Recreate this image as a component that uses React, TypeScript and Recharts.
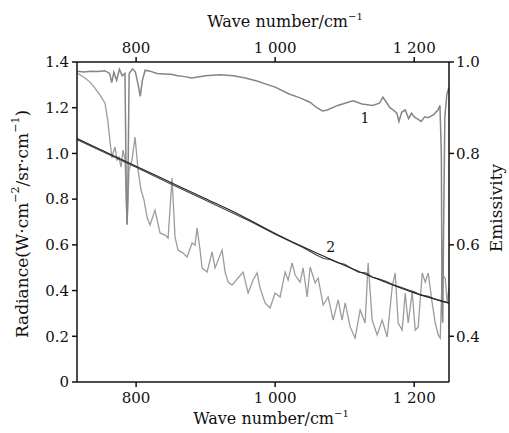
import React from 'react';
import { LineChart, Line, XAxis, YAxis, ReferenceDot } from 'recharts';

// axis ticks
const waveTicks = [800, 1000, 1200];
const waveTickLabels = ['800', '1 000', '1 200'];
const radianceTicks = [0, 0.2, 0.4, 0.6, 0.8, 1.0, 1.2, 1.4];
const emissivityTicks = [0.4, 0.6, 0.8, 1.0];

// curve 1: emissivity (right axis), [wave number, emissivity]
const emissivityCurve = [
    [715, 0.980], [725, 0.978], [735, 0.980], [745, 0.979], [755, 0.981], [762, 0.975],
    [765, 0.955], [768, 0.978], [772, 0.960], [776, 0.984], [780, 0.970], [784, 0.975],
    [786, 0.70], [787, 0.645], [788, 0.70], [790, 0.975], [795, 0.985], [799, 0.978],
    [803, 0.950], [806, 0.925], [809, 0.960], [813, 0.982], [820, 0.980], [830, 0.975],
    [840, 0.974], [850, 0.973], [860, 0.970], [870, 0.968], [880, 0.965], [900, 0.970],
    [920, 0.972], [940, 0.970], [957, 0.965], [975, 0.958], [990, 0.950], [1000, 0.945],
    [1020, 0.930], [1035, 0.922], [1050, 0.912], [1060, 0.900], [1068, 0.893], [1075, 0.895],
    [1090, 0.905], [1105, 0.912], [1112, 0.915], [1125, 0.908], [1140, 0.905], [1150, 0.910],
    [1155, 0.923], [1160, 0.912], [1165, 0.900], [1170, 0.895], [1175, 0.888], [1178, 0.870],
    [1182, 0.890], [1187, 0.895], [1192, 0.876], [1196, 0.888], [1200, 0.880], [1205, 0.875],
    [1210, 0.870], [1215, 0.880], [1220, 0.878], [1228, 0.885], [1234, 0.895], [1237, 0.905],
    [1239, 0.80], [1240, 0.45], [1241, 0.43], [1242, 0.60], [1244, 0.88], [1247, 0.930],
    [1250, 0.945],
];

// measured sample radiance (left axis)
const sampleRadiance = [
    [715, 1.352], [726.5, 1.330], [733.7, 1.312], [740.9, 1.286], [748.1, 1.255], [755.3, 1.220],
    [759.6, 1.137], [762.5, 1.050], [765.4, 0.980], [766.8, 1.002], [769.7, 1.028], [772.6, 0.971],
    [775.4, 0.984], [778.3, 0.940], [781.2, 1.015], [784.1, 0.971], [787.0, 0.687], [789.8, 0.927],
    [794.1, 0.971], [798.5, 1.072], [802.8, 0.927], [807.1, 0.840], [811.4, 0.796], [815.7, 0.722],
    [820.0, 0.687], [827.2, 0.752], [834.4, 0.652], [841.6, 0.643], [846.0, 0.630], [851.7, 0.892],
    [856.0, 0.634], [860.3, 0.577], [867.5, 0.564], [873.3, 0.547], [880.5, 0.608], [884.8, 0.599],
    [887.7, 0.674], [892.0, 0.577], [894.9, 0.499], [902.1, 0.481], [909.3, 0.569], [913.6, 0.499],
    [923.7, 0.577], [928.0, 0.481], [932.3, 0.437], [938.0, 0.424], [946.7, 0.455], [953.9, 0.481],
    [961.1, 0.389], [968.3, 0.446], [974.0, 0.477], [978.3, 0.411], [985.5, 0.346], [992.7, 0.324],
    [999.9, 0.389], [1007.1, 0.372], [1014.3, 0.481], [1018.6, 0.446], [1024.4, 0.521], [1028.7, 0.468],
    [1035.9, 0.437], [1040.2, 0.499], [1046.0, 0.372], [1050.3, 0.503], [1057.5, 0.433], [1061.8, 0.455],
    [1069.0, 0.337], [1076.2, 0.372], [1083.4, 0.271], [1090.6, 0.359], [1096.3, 0.271], [1100.7, 0.346],
    [1107.8, 0.241], [1115.0, 0.192], [1122.2, 0.315], [1129.4, 0.258], [1133.7, 0.521], [1139.5, 0.271],
    [1146.7, 0.206], [1153.9, 0.271], [1161.1, 0.197], [1168.3, 0.416], [1172.6, 0.477], [1176.9, 0.258],
    [1182.7, 0.227], [1187.0, 0.389], [1191.3, 0.258], [1197.1, 0.394], [1201.4, 0.227], [1205.7, 0.241],
    [1211.5, 0.477], [1215.8, 0.437], [1220.1, 0.477], [1225.8, 0.346], [1230.2, 0.258], [1234.5, 0.206],
    [1237.4, 0.192], [1240.2, 0.468], [1244.6, 0.455], [1247.4, 0.346], [1250, 0.416],
];

// curve 2: blackbody radiance (left axis)
const blackbodyRadiance = [
    [715, 1.065], [750, 1.015], [800, 0.944], [850, 0.873], [900, 0.802], [950, 0.730],
    [1000, 0.650], [1050, 0.577], [1100, 0.510], [1150, 0.447], [1200, 0.390], [1250, 0.346],
];

// curve 2: retrieved radiance (left axis)
const retrievedRadiance = [
    [715, 1.060], [800, 0.940], [850, 0.866], [900, 0.795], [964, 0.703], [1000, 0.646],
    [1040, 0.588], [1060, 0.555], [1070, 0.540], [1080, 0.535], [1090, 0.522], [1100, 0.515],
    [1110, 0.497], [1120, 0.480], [1130, 0.478], [1140, 0.458], [1150, 0.450], [1160, 0.440],
    [1170, 0.425], [1180, 0.415], [1190, 0.405], [1200, 0.395], [1210, 0.380], [1220, 0.375],
    [1230, 0.362], [1240, 0.352], [1250, 0.345],
];

const toRows = (pairs: number[][]) => pairs.map(([wave, value]) => ({ wave, value }));

const FONT = 'DejaVu Serif';
const tickStyle = { fill: '#111', fontSize: 15, fontFamily: FONT };
const axisLine = { stroke: '#111', strokeWidth: 1.5 };

const waveLabel = (v: number) => waveTickLabels[waveTicks.indexOf(v)] ?? String(v);
const radianceLabel = (v: number) => (v === 0 ? '0' : v.toFixed(1));

const WaveTitle = (x: number, y: number) => (
    <text x={x} y={y} textAnchor="middle" fontFamily={FONT} fontSize={16} fill="#111">
        Wave number/cm<tspan dy={-7} fontSize={10}>−1</tspan>
    </text>
);

const App: React.FC = () => (
    <div style={{ position: 'absolute', left: 0, top: 0, width: 509, height: 433, background: '#fff' }}>
        <LineChart width={509} height={433} margin={{ top: 0, right: 0, bottom: 0, left: 0 }}>
            <XAxis xAxisId="bottom" dataKey="wave" type="number" domain={[715, 1250]} ticks={waveTicks}
                tickFormatter={waveLabel} allowDataOverflow height={51} tickSize={5} tickMargin={5}
                tick={tickStyle} axisLine={axisLine} tickLine={axisLine}
                label={() => WaveTitle(271, 424)} />
            <XAxis xAxisId="top" orientation="top" dataKey="wave" type="number" domain={[715, 1250]} ticks={waveTicks}
                tickFormatter={waveLabel} allowDataOverflow height={62} tickSize={5} tickMargin={4}
                tick={tickStyle} axisLine={axisLine} tickLine={axisLine}
                label={() => WaveTitle(285, 27)} />
            <YAxis yAxisId="rad" type="number" domain={[0, 1.4]} ticks={radianceTicks} tickFormatter={radianceLabel}
                allowDataOverflow width={77} tickSize={5} tickMargin={3}
                tick={tickStyle} axisLine={axisLine} tickLine={axisLine}
                label={() => (
                    <text x={22} y={224} transform="rotate(-90 22 224)" textAnchor="middle" dominantBaseline="central"
                        fontFamily={FONT} fontSize={17} fill="#111">
                        Radiance(W·cm<tspan dy={-7} fontSize={11}>−2</tspan>
                        <tspan dy={7}>/sr·cm</tspan><tspan dy={-7} fontSize={11}>−1</tspan><tspan dy={7}>)</tspan>
                    </text>
                )} />
            <YAxis yAxisId="emi" orientation="right" type="number" domain={[0.3, 1.0]} ticks={emissivityTicks}
                tickFormatter={(v: number) => v.toFixed(1)} allowDataOverflow width={60} tickSize={5} tickMargin={2}
                tick={tickStyle} axisLine={axisLine} tickLine={axisLine}
                label={() => (
                    <text x={496} y={208} transform="rotate(-90 496 208)" textAnchor="middle" dominantBaseline="central"
                        fontFamily={FONT} fontSize={17} fill="#111">
                        Emissivity
                    </text>
                )} />

            <Line xAxisId="bottom" yAxisId="rad" data={toRows(sampleRadiance)} dataKey="value" type="linear"
                stroke="#9c9c9c" strokeWidth={1.3} dot={false} isAnimationActive={false} />
            <Line xAxisId="bottom" yAxisId="emi" data={toRows(emissivityCurve)} dataKey="value" type="linear"
                stroke="#858585" strokeWidth={1.5} dot={false} isAnimationActive={false} />
            <Line xAxisId="bottom" yAxisId="rad" data={toRows(retrievedRadiance)} dataKey="value" type="linear"
                stroke="#444" strokeWidth={1.1} dot={false} isAnimationActive={false} />
            <Line xAxisId="bottom" yAxisId="rad" data={toRows(blackbodyRadiance)} dataKey="value" type="monotone"
                stroke="#222" strokeWidth={1.1} dot={false} isAnimationActive={false} />

            <ReferenceDot xAxisId="bottom" yAxisId="emi" x={1129} y={0.878} r={0}
                label={{ value: '1', position: 'center', fontFamily: FONT, fontSize: 14, fill: '#111' }} />
            <ReferenceDot xAxisId="bottom" yAxisId="rad" x={1080} y={0.59} r={0}
                label={{ value: '2', position: 'center', fontFamily: FONT, fontSize: 14, fill: '#111' }} />
        </LineChart>
    </div>
);

export default App;
